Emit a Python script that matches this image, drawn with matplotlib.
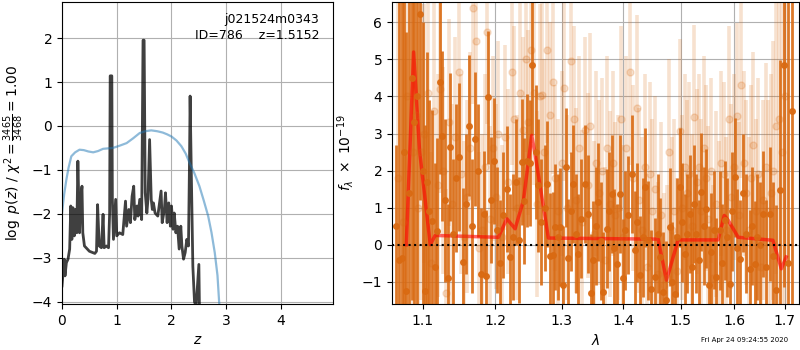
import matplotlib
matplotlib.use("Agg")
import matplotlib.pyplot as plt
from matplotlib.ticker import NullLocator, NullFormatter

# ---------------- left panel: redshift PDF ----------------
z_pz = [0.00, 0.04, 0.055, 0.08, 0.11, 0.14, 0.16, 0.18, 0.20, 0.225, 0.25, 0.27, 0.29, 0.32,
        0.34, 0.365, 0.38, 0.41, 0.50, 0.60, 0.63, 0.65, 0.68, 0.72, 0.75, 0.77, 0.81, 0.85,
        0.87, 0.88, 0.91, 0.92, 0.94, 0.98, 1.00, 1.05, 1.11, 1.16, 1.18, 1.22, 1.25, 1.28,
        1.31, 1.33, 1.37, 1.39, 1.42, 1.455, 1.48, 1.50, 1.52, 1.55, 1.57, 1.60, 1.63, 1.65,
        1.67, 1.70, 1.75, 1.81, 1.83, 1.87, 1.89, 1.92, 1.95, 1.98, 2.00, 2.03, 2.05, 2.08,
        2.11, 2.14, 2.17, 2.19, 2.22, 2.25, 2.28, 2.31, 2.33, 2.34, 2.36, 2.39, 2.42, 2.45,
        2.50, 2.51, 2.53]
logpz = [-3.64, -3.03, -3.41, -3.11, -3.03, -2.80, -1.82, -2.58, -1.86, -2.50, -1.90, -2.43,
         -0.80, -2.43, -1.67, -1.37, -2.43, -2.73, -2.85, -2.90, -2.85, -1.79, -2.73, -2.77,
         -2.01, -2.77, -2.73, -2.77, -1.98, 1.14, 1.14, -1.67, -2.58, -1.67, -2.50, -2.43,
         -2.47, -1.71, -2.28, -1.90, -2.20, -1.60, -1.37, -2.13, -1.82, -2.05, -1.67, -2.13,
         1.95, 1.95, -1.52, -1.98, -1.67, -0.31, -1.67, -1.90, -1.75, -1.98, -2.05, -1.48,
         -2.20, -1.90, -1.52, -2.20, -1.75, -2.28, -1.82, -2.35, -1.98, -2.43, -2.28, -2.80,
         -2.28, -2.73, -3.03, -2.88, -2.58, -2.73, -0.69, 0.68, -0.92, -3.19, -4.00, -4.10,
         -3.15, -4.10, -4.30]

z_chi = [0.00, 0.04, 0.08, 0.12, 0.17, 0.24, 0.32, 0.40, 0.48, 0.57, 0.66, 0.75, 0.84,
         0.93, 1.05, 1.18, 1.30, 1.42, 1.52, 1.63, 1.74, 1.84, 1.92, 2.00, 2.09, 2.18,
         2.26, 2.33, 2.42, 2.51, 2.59, 2.67, 2.73, 2.79, 2.84, 2.87, 2.90]
chi_scaled = [-1.98, -1.55, -1.22, -0.95, -0.69, -0.60, -0.54, -0.55, -0.58, -0.60, -0.57,
              -0.52, -0.51, -0.50, -0.45, -0.39, -0.28, -0.16, -0.12, -0.10, -0.12, -0.15,
              -0.19, -0.24, -0.33, -0.46, -0.63, -0.84, -1.08, -1.37, -1.70, -2.05, -2.42,
              -2.88, -3.40, -4.00, -4.40]

# ---------------- right panel: 1D spectrum ----------------
d_wave = [1.0655, 1.0695, 1.0727, 1.0760, 1.0789, 1.0821, 1.0855, 1.0886, 1.0925, 1.0960,
          1.1000, 1.1031, 1.1057, 1.1090, 1.1128, 1.1160, 1.1186, 1.1230, 1.1260, 1.1300,
          1.1335, 1.1370, 1.1410, 1.1450, 1.1490, 1.1546, 1.1585, 1.1638, 1.1680, 1.1720,
          1.1760, 1.1800, 1.1840, 1.1875, 1.1904, 1.1950, 1.1990, 1.2035, 1.2080, 1.2120,
          1.2170, 1.2220, 1.2265, 1.2300, 1.2358, 1.2393, 1.2430, 1.2467, 1.2510, 1.2552,
          1.2600, 1.2643, 1.2690, 1.2740, 1.2782, 1.2820, 1.2860, 1.2900, 1.2940, 1.2980,
          1.3020, 1.3064, 1.3106, 1.3150, 1.3176, 1.3220, 1.3264, 1.3310, 1.3371, 1.3424,
          1.3465, 1.3506, 1.3550, 1.3587, 1.3630, 1.3670, 1.3724, 1.3765, 1.3807, 1.3850,
          1.3890, 1.3946, 1.3990, 1.4030, 1.4080, 1.4142, 1.4199, 1.4240, 1.4284, 1.4330,
          1.4370, 1.4427, 1.4480, 1.4543, 1.4590, 1.4630, 1.4690, 1.4747, 1.4807, 1.4850,
          1.4896, 1.4940, 1.4986, 1.5030, 1.5076, 1.5120, 1.5167, 1.5210, 1.5250, 1.5289,
          1.5335, 1.5381, 1.5430, 1.5474, 1.5520, 1.5567, 1.5610, 1.5661, 1.5724, 1.5770,
          1.5818, 1.5865, 1.5914, 1.5960, 1.6010, 1.6060, 1.6106, 1.6170, 1.6230, 1.6299,
          1.6350, 1.6396, 1.6450, 1.6494, 1.6560, 1.6620, 1.6693, 1.6760, 1.6827, 1.6908,
          1.6989, 1.7060, 1.7147]
d_flux = [0.50, -0.40, -0.36, 2.50, -1.26, 1.40, 4.50, 3.30, 4.02, 6.22,
          2.00, -1.26, 1.70, 0.90, 0.64, -0.60, 0.37, 4.40, 2.94, 1.20,
          -0.90, 2.63, 0.30, 1.80, 2.36, -0.47, 1.10, 3.21, 0.50, 2.85,
          2.00, -0.80, 0.83, -0.85, 3.98, 1.20, 2.27, 0.39, -0.50, 0.80,
          1.51, -0.33, 0.20, 1.70, 0.12, 2.23, 1.19, 2.27, 2.20, 4.86,
          2.50, 1.60, 0.60, 1.00, 1.64, -0.30, -0.29, 0.48, 0.20, 0.48,
          -1.10, 2.09, -0.36, 0.90, 1.64, 0.30, -0.24, 0.70, 1.64, 0.83,
          -1.30, -0.42, 0.50, 1.15, 0.10, -1.27, 0.43, 0.90, 1.37, -0.10,
          -0.51, 1.37, -0.90, 0.39, 0.80, 1.91, -0.15, 0.60, -0.83, 0.20,
          1.55, 0.12, -1.20, -0.87, 0.30, -0.33, -1.27, -1.50, 0.48, -1.00,
          -1.32, 0.20, 1.55, 0.60, -0.24, 0.30, 0.83, -0.60, 1.10, 0.30,
          -0.40, 1.42, 0.50, 0.97, -1.10, -0.20, 0.40, -0.87, 0.39, -0.50,
          0.66, 0.20, -1.05, 0.90, 1.82, -0.10, -0.38, 1.40, 0.30, -0.65,
          0.50, -0.51, 0.20, -0.02, 0.83, -0.60, 0.83, -0.30, -1.23, 1.48,
          4.86, -0.50, 3.62]
d_err = [2.2, 7.0, 7.5, 8.0, 7.0, 8.0, 6.0, 6.0, 6.0, 5.0,
         4.0, 4.5, 3.5, 3.0, 3.0, 2.8, 2.5, 2.5, 2.3, 2.2,
         2.0, 2.0, 2.0, 2.0, 2.0, 2.0, 1.9, 1.9, 1.8, 1.8,
         1.8, 1.8, 1.7, 1.8, 1.8, 1.7, 1.7, 1.7, 1.7, 1.7,
         1.7, 1.7, 1.7, 1.7, 1.7, 1.7, 1.7, 1.8, 1.7, 1.9,
         1.8, 1.8, 1.7, 1.7, 1.7, 1.7, 1.7, 1.7, 1.7, 1.6,
         1.6, 1.6, 1.6, 1.6, 1.6, 1.6, 1.6, 1.6, 1.6, 1.6,
         1.6, 1.6, 1.6, 1.6, 1.6, 1.6, 1.6, 1.6, 1.6, 1.6,
         1.6, 1.6, 1.6, 1.6, 1.6, 1.6, 1.6, 1.6, 1.6, 1.6,
         1.6, 1.6, 1.6, 1.6, 1.6, 1.6, 1.6, 1.6, 1.6, 1.6,
         1.6, 1.6, 1.6, 1.6, 1.6, 1.6, 1.6, 1.6, 1.6, 1.6,
         1.6, 1.6, 1.6, 1.6, 1.6, 1.6, 1.6, 1.6, 1.6, 1.6,
         1.6, 1.6, 1.6, 1.6, 1.6, 1.6, 1.6, 1.6, 1.6, 1.6,
         1.6, 1.7, 1.7, 1.7, 1.7, 1.8, 1.8, 2.0, 2.3, 3.5,
         6.0, 8.0, 8.0]

l_wave = [1.0680, 1.0745, 1.0800, 1.0870, 1.0910, 1.0945, 1.0985, 1.1020, 1.1070, 1.1110,
          1.1150, 1.1200, 1.1234, 1.1280, 1.1320, 1.1355, 1.1395, 1.1440, 1.1486, 1.1520,
          1.1565, 1.1610, 1.1650, 1.1694, 1.1723, 1.1770, 1.1810, 1.1850, 1.1890, 1.1930,
          1.1970, 1.2010, 1.2050, 1.2100, 1.2140, 1.2190, 1.2245, 1.2280, 1.2320, 1.2370,
          1.2410, 1.2450, 1.2490, 1.2533, 1.2575, 1.2620, 1.2660, 1.2692, 1.2735, 1.2771,
          1.2815, 1.2863, 1.2900, 1.2950, 1.3000, 1.3044, 1.3090, 1.3148, 1.3190, 1.3235,
          1.3280, 1.3330, 1.3375, 1.3420, 1.3460, 1.3510, 1.3555, 1.3600, 1.3640, 1.3690,
          1.3735, 1.3780, 1.3825, 1.3870, 1.3915, 1.3960, 1.4000, 1.4050, 1.4114, 1.4160,
          1.4228, 1.4270, 1.4320, 1.4365, 1.4410, 1.4460, 1.4500, 1.4550, 1.4600, 1.4650,
          1.4700, 1.4750, 1.4795, 1.4840, 1.4890, 1.4940, 1.4986, 1.5030, 1.5080, 1.5120,
          1.5160, 1.5200, 1.5247, 1.5290, 1.5340, 1.5380, 1.5420, 1.5460, 1.5510, 1.5555,
          1.5600, 1.5650, 1.5700, 1.5750, 1.5795, 1.5850, 1.5898, 1.5940, 1.5990, 1.6043,
          1.6090, 1.6138, 1.6180, 1.6230, 1.6280, 1.6320, 1.6370, 1.6420, 1.6470, 1.6520,
          1.6570, 1.6620, 1.6670, 1.6720, 1.6760, 1.6827, 1.6885, 1.6940, 1.7000]
l_flux = [1.8, 0.6, 4.0, 2.5, 3.5, 1.0, 2.5, 3.0, 4.1, -0.5,
          3.6, 1.6, 4.2, 2.0, -1.3, 3.3, 1.1, 2.9, 4.67, 1.9,
          0.2, 1.3, 2.6, 6.4, 5.5, -0.1, 0.4, 2.1, 5.75, 0.7,
          2.6, 1.3, 3.0, 0.2, 2.9, 1.7, 4.65, 3.4, 1.0, 4.1,
          3.1, 5.0, 3.3, 5.25, 4.1, 1.1, 4.0, 4.05, 2.5, 5.25,
          3.5, 4.4, 1.8, 0.9, 2.2, 4.23, 1.0, 4.95, 3.4, 1.2,
          2.6, 0.6, 3.1, 1.6, 3.2, 0.3, 2.2, 1.4, 2.0, -0.4,
          2.6, 1.1, 2.2, 0.8, 1.0, 3.4, 0.2, 2.6, 4.65, 1.8,
          3.7, 1.2, 0.4, 2.1, -0.6, 1.9, 0.9, 1.5, -0.8, 0.8,
          -1.1, -0.9, 2.5, 0.4, 0.9, -0.7, 3.06, 1.0, 2.1, 1.4,
          1.9, 0.5, 3.44, 1.7, 2.1, 0.9, 2.6, 1.8, 0.7, 2.0,
          -0.9, 1.1, 0.3, 2.2, 1.9, 0.4, 3.4, 1.3, 2.1, 3.48,
          0.8, 4.3, 2.2, 1.4, 0.4, 1.8, 2.7, 0.9, 1.9, -0.6,
          1.2, 2.1, 0.9, 1.4, 2.0, 3.2, 3.4, 2.5, 4.0]
l_err = [5.0, 6.0, 6.0, 6.0, 5.0, 5.0, 4.0, 3.5, 3.0, 3.0,
         3.0, 3.0, 2.8, 2.8, 2.8, 2.8, 2.7, 2.7, 2.7, 2.7,
         2.6, 2.6, 2.6, 2.6, 2.6, 2.6, 2.6, 2.5, 2.5, 2.5,
         2.5, 2.5, 2.5, 2.5, 2.5, 2.5, 2.5, 2.5, 2.5, 2.5,
         2.5, 2.5, 2.5, 2.5, 2.5, 2.5, 2.5, 2.5, 2.5, 2.5,
         2.5, 2.5, 2.5, 2.5, 2.5, 2.5, 2.5, 2.5, 2.5, 2.5,
         2.5, 2.5, 2.5, 2.5, 2.5, 2.5, 2.5, 2.5, 2.5, 2.5,
         2.5, 2.5, 2.5, 2.5, 2.5, 2.5, 2.5, 2.5, 2.5, 2.5,
         2.5, 2.5, 2.5, 2.5, 2.5, 2.5, 2.5, 2.5, 2.5, 2.5,
         2.5, 2.5, 2.5, 2.5, 2.5, 2.5, 2.5, 2.5, 2.5, 2.5,
         2.5, 2.5, 2.5, 2.5, 2.5, 2.5, 2.5, 2.5, 2.5, 2.5,
         2.5, 2.5, 2.5, 2.5, 2.5, 2.5, 2.5, 2.5, 2.5, 2.5,
         2.5, 2.5, 2.5, 2.5, 2.5, 2.5, 2.5, 2.5, 2.6, 2.6,
         2.7, 2.8, 3.0, 3.2, 3.5, 4.0, 5.0, 6.0, 7.0]

m_wave = [1.0787, 1.0882, 1.0960, 1.1102, 1.1168, 1.2050, 1.2172, 1.2294, 1.2418, 1.2542,
          1.2592, 1.2796, 1.4600, 1.4747, 1.4955, 1.5693, 1.5807, 1.5883, 1.6075, 1.6760,
          1.6930, 1.7030]
m_flux = [0.00, 5.20, 2.54, 0.00, 0.25, 0.20, 0.70, 0.43, 1.20, 2.95,
          2.45, 0.18, 0.15, -0.96, 0.13, 0.13, 0.79, 0.66, 0.20, 0.12,
          -0.65, -0.33]

x_ticks = [1.1, 1.2, 1.3, 1.4, 1.5, 1.6, 1.7]
x_ticklabels = ['1.1', '1.2', '1.3', '1.4', '1.5', '1.6', '1.7']

target = 'j021524m0343'
obj_label = 'ID=786    z=1.5152'
timestamp = 'Fri Apr 24 09:24:55 2020'

fig = plt.figure(figsize=(8, 3.5), dpi=100)
ax1 = fig.add_axes([62/800, 46/350, 271/800, 302/350])
ax2 = fig.add_axes([392/800, 46/350, 407/800, 302/350])

# left
ax1.plot(z_pz, logpz, color='k', alpha=0.75, lw=2)
ax1.plot(z_chi, chi_scaled, color='#1f77b4', alpha=0.5, lw=1.6)
ax1.set_xlim(0, 4.95)
ax1.set_ylim(-4.05, 2.82)
ax1.set_xticks([0, 1, 2, 3, 4])
ax1.set_yticks([-4, -3, -2, -1, 0, 1, 2])
ax1.grid(True)
ax1.set_xlabel('$z$')
ax1.set_ylabel(r'$\log\ p(z)$' + ' / ' + r'$\chi^2=\frac{3465}{3468}=1.00$')
ax1.text(0.95, 0.965, target, transform=ax1.transAxes, ha='right', va='top', fontsize=9)
ax1.text(0.95, 0.91, obj_label, transform=ax1.transAxes, ha='right', va='top', fontsize=9)

# right
orange = '#d96a12'
ax2.errorbar(l_wave, l_flux, yerr=l_err, marker='o', linestyle='None', color=orange,
             alpha=0.2, ms=5, elinewidth=2.6, capsize=0)
ax2.errorbar(d_wave, d_flux, yerr=d_err, marker='o', linestyle='None', color=orange,
             alpha=0.9, ms=4, elinewidth=2.0, capsize=0)
ax2.plot(m_wave, m_flux, color='red', alpha=0.6, lw=2.5)
ax2.plot([1.0603, 1.7294], [0, 0], 'k:', lw=1.5)
ax2.set_xscale('log')
ax2.set_xlim(1.0603, 1.7294)
ax2.set_ylim(-1.6, 6.55)
ax2.set_xticks(x_ticks)
ax2.set_xticklabels(x_ticklabels)
ax2.xaxis.set_minor_locator(NullLocator())
ax2.xaxis.set_minor_formatter(NullFormatter())
ax2.set_yticks([-1, 0, 1, 2, 3, 4, 5, 6])
ax2.grid(True)
ax2.set_xlabel(r'$\lambda$')
ax2.set_ylabel(r'$f_\lambda\ \times\ 10^{-19}$')

fig.text(788/800, 10/350, timestamp, ha='right', va='center', fontsize=5)

fig.savefig('out.png', dpi=100)
